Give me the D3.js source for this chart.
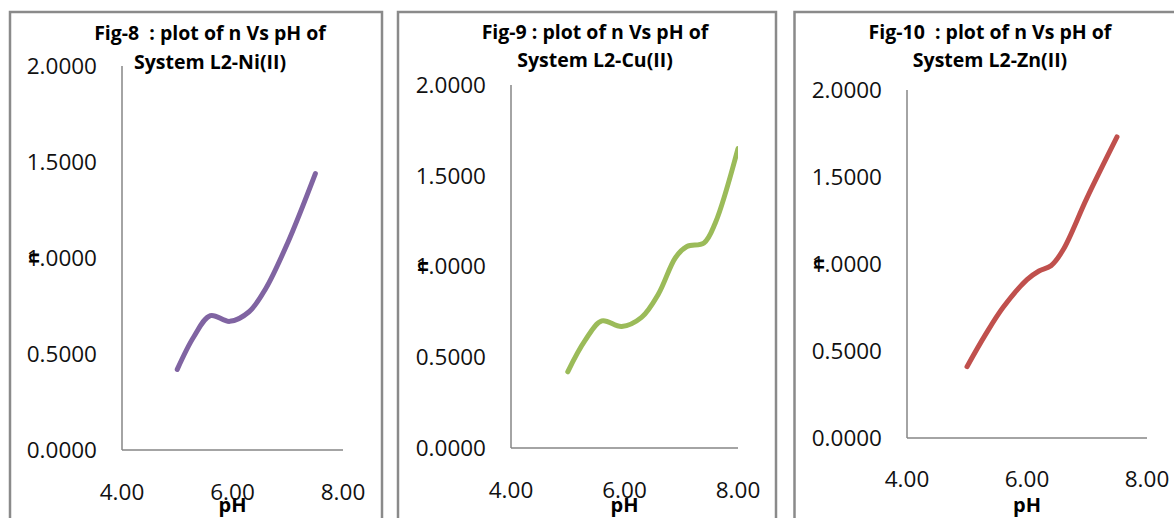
<!DOCTYPE html>
<html>
<head>
<meta charset="utf-8">
<script src="https://cdn.jsdelivr.net/npm/d3@7"></script>
<style>
  html, body { margin: 0; padding: 0; background: #fff; }
  svg { display: block; }
  text { white-space: pre; }
</style>
</head>
<body>
<svg id="chart" width="1174" height="518"></svg>
<script>
// n-bar vs pH formation curves for three L2 metal systems
const niPH = [5.0, 5.3, 5.6, 5.95, 6.3, 6.6, 7.0, 7.5];
const niN  = [0.42, 0.59, 0.70, 0.67, 0.72, 0.84, 1.08, 1.44];

const cuPH = [5.0, 5.3, 5.6, 5.95, 6.3, 6.6, 6.9, 7.1, 7.4, 7.6, 8.0];
const cuN  = [0.42, 0.59, 0.70, 0.67, 0.72, 0.85, 1.05, 1.11, 1.13, 1.24, 1.65];

const znPH = [5.0, 5.3, 5.6, 6.0, 6.2, 6.4, 6.6, 7.0, 7.5];
const znN  = [0.41, 0.59, 0.75, 0.91, 0.96, 0.99, 1.08, 1.38, 1.73];

const yTicks = [0, 0.5, 1.0, 1.5, 2.0];
const xTicks = [4, 6, 8];

const titles = [
  ["Fig-8  : plot of n Vs pH of", "System L2-Ni(II)"],
  ["Fig-9 : plot of n Vs pH of", "System L2-Cu(II)"],
  ["Fig-10  : plot of n Vs pH of", "System L2-Zn(II)"]
];
const colors = ["#8064A2", "#9BBB59", "#C0504D"];
const xTitle = "pH";
const yTitle = "n";

// Panel frames and plot areas (pixels)
const panels = [
  { frame: [10, 12, 372], plot: { left: 122, right: 343, top: 66, bottom: 450 },
    titleX: 210, titleY: [33, 62], xLabY: 492, xTitleY: 505, ph: niPH, n: niN },
  { frame: [398, 12, 378], plot: { left: 511, right: 738, top: 85, bottom: 448 },
    titleX: 595, titleY: [32, 60], xLabY: 490, xTitleY: 505, ph: cuPH, n: cuN },
  { frame: [794.5, 12, 400], plot: { left: 907, right: 1147, top: 90, bottom: 438 },
    titleX: 990, titleY: [32, 60], xLabY: 479, xTitleY: 505, ph: znPH, n: znN }
];

const svg = d3.select("#chart");
const font = "'Open Sans', 'Noto Sans', sans-serif";

panels.forEach((p, i) => {
  const g = svg.append("g");
  const [fx, fy, fw] = p.frame;

  // chart frame (runs past the bottom of the view)
  g.append("rect")
    .attr("x", fx).attr("y", fy).attr("width", fw).attr("height", 600)
    .attr("fill", "none").attr("stroke", "#8a8a8a").attr("stroke-width", 2.5);

  const x = d3.scaleLinear().domain([4, 8]).range([p.plot.left, p.plot.right]);
  const y = d3.scaleLinear().domain([0, 2]).range([p.plot.bottom, p.plot.top]);

  // axis lines
  g.append("line")
    .attr("x1", x(4)).attr("x2", x(4)).attr("y1", y(2)).attr("y2", y(0))
    .attr("stroke", "#868686").attr("stroke-width", 1.5);
  g.append("line")
    .attr("x1", x(4)).attr("x2", x(8)).attr("y1", y(0)).attr("y2", y(0))
    .attr("stroke", "#868686").attr("stroke-width", 1.5);

  // y tick labels
  g.selectAll(".ytick").data(yTicks).join("text")
    .attr("x", x(4) - 25).attr("y", d => y(d))
    .attr("dy", "0.35em")
    .attr("text-anchor", "end")
    .attr("font-family", font).attr("font-size", 22.5)
    .attr("fill", "#111")
    .text(d => d.toFixed(4));

  // x tick labels
  g.selectAll(".xtick").data(xTicks).join("text")
    .attr("x", d => x(d)).attr("y", p.xLabY)
    .attr("dy", "0.35em")
    .attr("text-anchor", "middle")
    .attr("font-family", font).attr("font-size", 22.5)
    .attr("fill", "#111")
    .text(d => d.toFixed(2));

  // x axis title
  g.append("text")
    .attr("x", x(6)).attr("y", p.xTitleY)
    .attr("dy", "0.35em")
    .attr("text-anchor", "middle")
    .attr("font-family", font).attr("font-weight", "bold").attr("font-size", 20)
    .text(xTitle);

  // y axis title, rotated and sitting over the "1" of 1.0000
  const yt = x(4) - 25 - 64;
  g.append("text")
    .attr("transform", `translate(${yt},${y(1)}) rotate(-90)`)
    .attr("text-anchor", "middle").attr("dy", "0.35em")
    .attr("font-family", font).attr("font-weight", "bold").attr("font-size", 18)
    .text(yTitle);

  // title
  titles[i].forEach((t, k) => {
    g.append("text")
      .attr("x", p.titleX).attr("y", p.titleY[k])
      .attr("dy", "0.35em")
      .attr("text-anchor", "middle")
      .attr("font-family", font).attr("font-weight", "bold").attr("font-size", 19.5)
      .text(t);
  });

  // clipped data line
  const clipId = "clip" + i;
  svg.append("clipPath").attr("id", clipId).append("rect")
    .attr("x", p.plot.left).attr("y", p.plot.top - 20)
    .attr("width", p.plot.right - p.plot.left)
    .attr("height", p.plot.bottom - p.plot.top + 20);

  const pts = p.ph.map((v, j) => [v, p.n[j]]);
  const line = d3.line()
    .x(d => x(d[0])).y(d => y(d[1]))
    .curve(d3.curveCatmullRom.alpha(0.5));
  g.append("path")
    .attr("clip-path", `url(#${clipId})`)
    .attr("d", line(pts))
    .attr("fill", "none")
    .attr("stroke", colors[i])
    .attr("stroke-width", 5)
    .attr("stroke-linecap", "round")
    .attr("stroke-linejoin", "round");
});
</script>
</body>
</html>
